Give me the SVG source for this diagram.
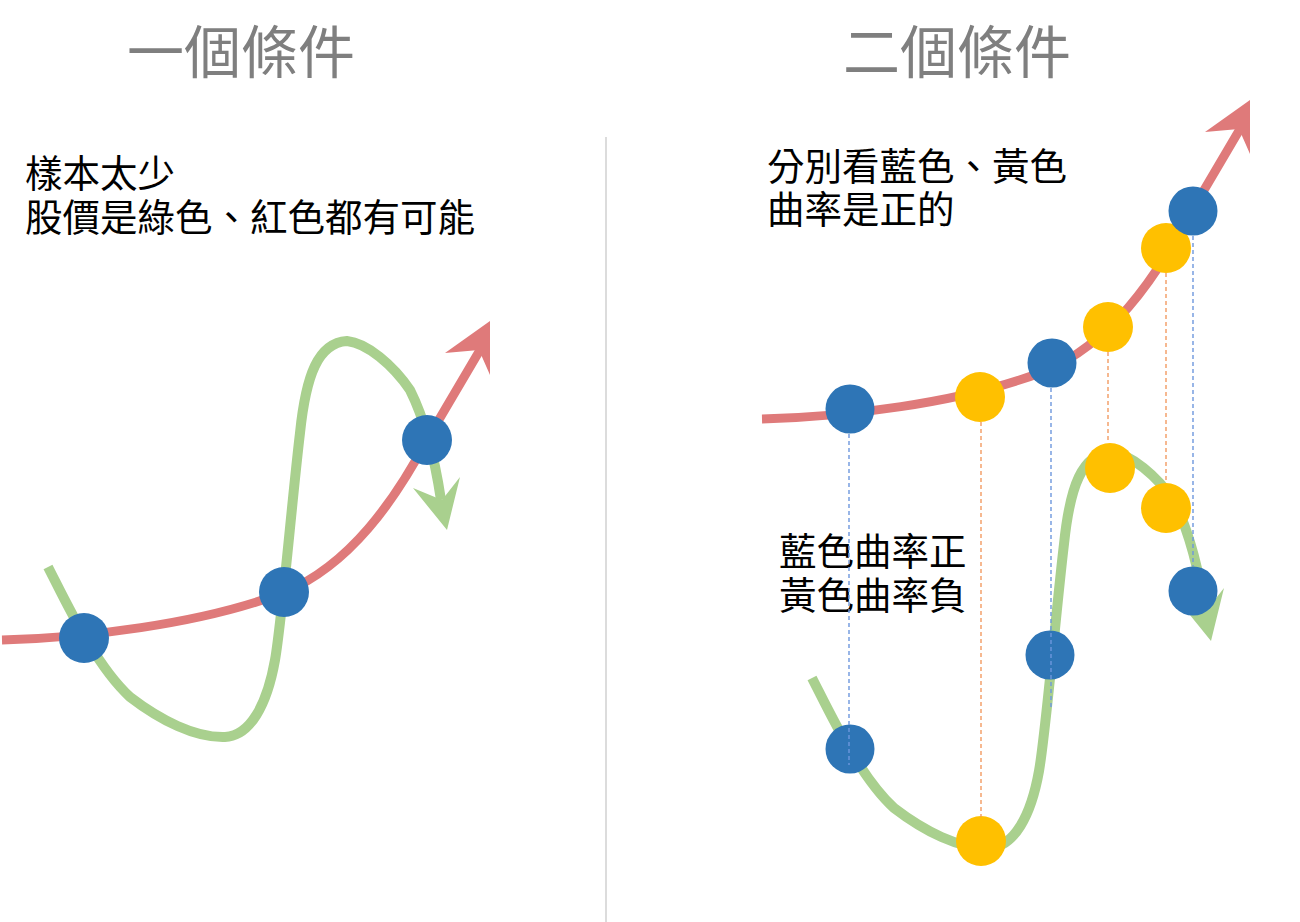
<svg xmlns="http://www.w3.org/2000/svg" xmlns:xlink="http://www.w3.org/1999/xlink" width="1300" height="922" viewBox="0 0 1300 922">
<style>
.title{font-family:"Noto Sans CJK TC","Noto Sans CJK SC",sans-serif;font-size:57px;fill:#7f7f7f;text-anchor:middle}
.txt{font-family:"Noto Sans CJK TC","Noto Sans CJK SC",sans-serif;font-size:37.5px;fill:#000}
.red{fill:none;stroke:#df7a7a;stroke-width:9}
.redh{fill:#df7a7a}
.green{fill:none;stroke:#a9d08e;stroke-width:10}
.greenh{fill:#a9d08e}
.blue{fill:#2e75b6}
.yel{fill:#ffc000}
.db{stroke:#6d97dd;stroke-width:1.4;stroke-dasharray:4 3;fill:none}
.do{stroke:#f29b62;stroke-width:1.4;stroke-dasharray:4 3;fill:none}
</style>
<defs>
<g id="redCurve">
<path class="red" d="M2,640 C80,638 200,625 285,592 C350,565 395,500 427,440 L480,350"/>
<polygon class="redh" points="490,321 445,353 479,350 490,375"/>
</g>
<g id="greenCurve">
<path class="green" d="M48,567 C65,600 95,665 130,697 C160,720 195,738 225,737 C250,736 267,705 275,660 C282,620 292,500 300,433 C306,375 318,343 347,341 C367,343 393,365 410,390 C425,420 435,460 441,500"/>
<polygon class="greenh" points="447,530 413,488 442,500 460,477"/>
</g>
</defs>
<rect width="1300" height="922" fill="#fff"/>
<g id="divider"><line x1="606" y1="137" x2="606" y2="922" stroke="#d0d0d0" stroke-width="1.5"/></g>
<g id="title-left"><text class="title" x="241" y="73">一個條件</text></g>
<g id="title-right"><text class="title" x="957" y="73">二個條件</text></g>
<g id="text-left"><text class="txt" x="25" y="187">樣本太少</text><text class="txt" x="25" y="231">股價是綠色、紅色都有可能</text></g>
<g id="text-right-top"><text class="txt" x="767" y="180">分別看藍色、黃色</text><text class="txt" x="767" y="223">曲率是正的</text></g>
<g id="text-right-mid"><text class="txt" x="779" y="565">藍色曲率正</text><text class="txt" x="779" y="609">黃色曲率負</text></g>
<g id="connectors">
<use xlink:href="#greenCurve"/>
<use xlink:href="#redCurve"/>
<use xlink:href="#greenCurve" transform="translate(764,111)"/>
<use xlink:href="#redCurve" transform="translate(760,-221)"/>
</g>
<g id="left-points">
<circle class="blue" cx="84" cy="638" r="25"/>
<circle class="blue" cx="284" cy="592" r="25"/>
<circle class="blue" cx="427" cy="440" r="25"/>
</g>
<g id="right-points">
<circle class="blue" cx="850" cy="409" r="24.5"/>
<circle class="yel" cx="980" cy="397" r="25"/>
<circle class="blue" cx="1052" cy="363" r="24.5"/>
<circle class="yel" cx="1108" cy="327" r="25"/>
<circle class="yel" cx="1166" cy="248" r="25"/>
<circle class="blue" cx="1193" cy="211" r="24.5"/>
<circle class="yel" cx="1110" cy="468" r="25"/>
<circle class="yel" cx="1166" cy="508" r="25"/>
<circle class="blue" cx="1193" cy="591" r="24.5"/>
<circle class="blue" cx="1050" cy="655" r="24.5"/>
<circle class="blue" cx="850" cy="749" r="24.5"/>
<circle class="yel" cx="981" cy="841" r="25"/>
</g>
<g id="guides">
<line class="db" x1="849" y1="434" x2="849" y2="765"/>
<line class="db" x1="1051" y1="388" x2="1051" y2="710"/>
<line class="db" x1="1193" y1="236" x2="1193" y2="566"/>
<line class="do" x1="981" y1="422" x2="981" y2="817"/>
<line class="do" x1="1108" y1="352" x2="1108" y2="443"/>
<line class="do" x1="1166" y1="273" x2="1166" y2="483"/>
</g>
</svg>
